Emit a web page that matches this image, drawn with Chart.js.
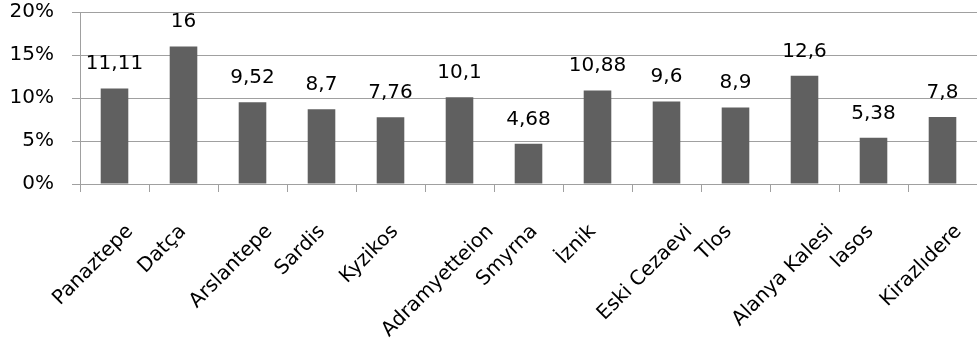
<!DOCTYPE html>
<html>
<head>
<meta charset="utf-8">
<script src="https://cdn.jsdelivr.net/npm/chart.js@4"></script>
<style>
  html, body { margin: 0; padding: 0; background: #fff; }
  #wrap { width: 977px; height: 350px; }
</style>
</head>
<body>
<div id="wrap"><canvas id="canvas"></canvas></div>
<script>
// site names and percentages
var sites = ['Panaztepe', 'Datça', 'Arslantepe', 'Sardis', 'Kyzikos', 'Adramyetteion',
    'Smyrna', 'İznik', 'Eski Cezaevi', 'Tlos', 'Alanya Kalesi', 'Iasos', 'Kirazlıdere'];
var values = [11.11, 16, 9.52, 8.7, 7.76, 10.1, 4.68, 10.88, 9.6, 8.9, 12.6, 5.38, 7.8];
var valueLabels = ['11,11', '16', '9,52', '8,7', '7,76', '10,1', '4,68', '10,88', '9,6', '8,9', '12,6', '5,38', '7,8'];

var FONT = '"DejaVu Sans", sans-serif';
var GRID = '#a0a0a0';

// labels above each bar (no datalabels plugin available)
var barLabels = {
    id: 'barLabels',
    afterDatasetsDraw: function(chart) {
        var ctx = chart.ctx;
        var meta = chart.getDatasetMeta(0);
        ctx.save();
        ctx.font = '20px ' + FONT;
        ctx.fillStyle = '#000';
        ctx.textAlign = 'center';
        ctx.textBaseline = 'alphabetic';
        meta.data.forEach(function(bar, i) {
            ctx.fillText(valueLabels[i], bar.x, bar.y - 19);
        });
        ctx.restore();
    }
};

// excel keeps rotated labels roughly centred under the bar,
// so longer names sit further right than chart.js puts them
var excelLabels = {
    id: 'excelLabels',
    beforeDraw: function(chart) {
        var scale = chart.scales.x;
        var items = scale.getLabelItems();
        var ctx = chart.ctx;
        ctx.save();
        ctx.font = '20px ' + FONT;
        items.forEach(function(item) {
            if (item._moved) return;
            var w = ctx.measureText(item.label).width;
            item.options.translation[0] += 0.35 * w - 21;
            item._moved = true;
        });
        ctx.restore();
    }
};

var ctx = document.getElementById('canvas').getContext('2d');
var myChart = new Chart(ctx, {
    type: 'bar',
    data: {
        labels: sites,
        datasets: [{
            data: values,
            backgroundColor: '#606060',
            borderWidth: 0,
            categoryPercentage: 1,
            barPercentage: 0.4
        }]
    },
    plugins: [barLabels, excelLabels],
    options: {
        responsive: true,
        maintainAspectRatio: false,
        animation: false,
        layout: { padding: { top: 12, right: 0, left: 0, bottom: 0 } },
        plugins: {
            legend: { display: false },
            tooltip: { enabled: false }
        },
        scales: {
            x: {
                offset: true,
                grid: {
                    offset: true,
                    drawOnChartArea: false,
                    drawTicks: true,
                    tickLength: 8,
                    color: GRID
                },
                border: { color: GRID, width: 1 },
                ticks: {
                    color: '#000',
                    font: { family: FONT, size: 20 },
                    minRotation: 45,
                    maxRotation: 45,
                    autoSkip: false,
                    padding: 28,
                    labelOffset: 0
                },
                afterFit: function(scale) {
                    scale.height = 166;
                    scale.paddingLeft = 0;
                    scale.paddingRight = 0;
                }
            },
            y: {
                min: 0,
                max: 20,
                grid: { color: GRID, tickLength: 8 },
                border: { color: GRID, width: 1 },
                ticks: {
                    stepSize: 5,
                    color: '#000',
                    padding: 18,
                    font: { family: FONT, size: 20 },
                    callback: function(v) { return v + '%'; }
                },
                afterFit: function(scale) {
                    scale.width = 80;
                    scale.paddingTop = 0;
                    scale.paddingBottom = 0;
                }
            }
        }
    }
});
</script>
</body>
</html>
